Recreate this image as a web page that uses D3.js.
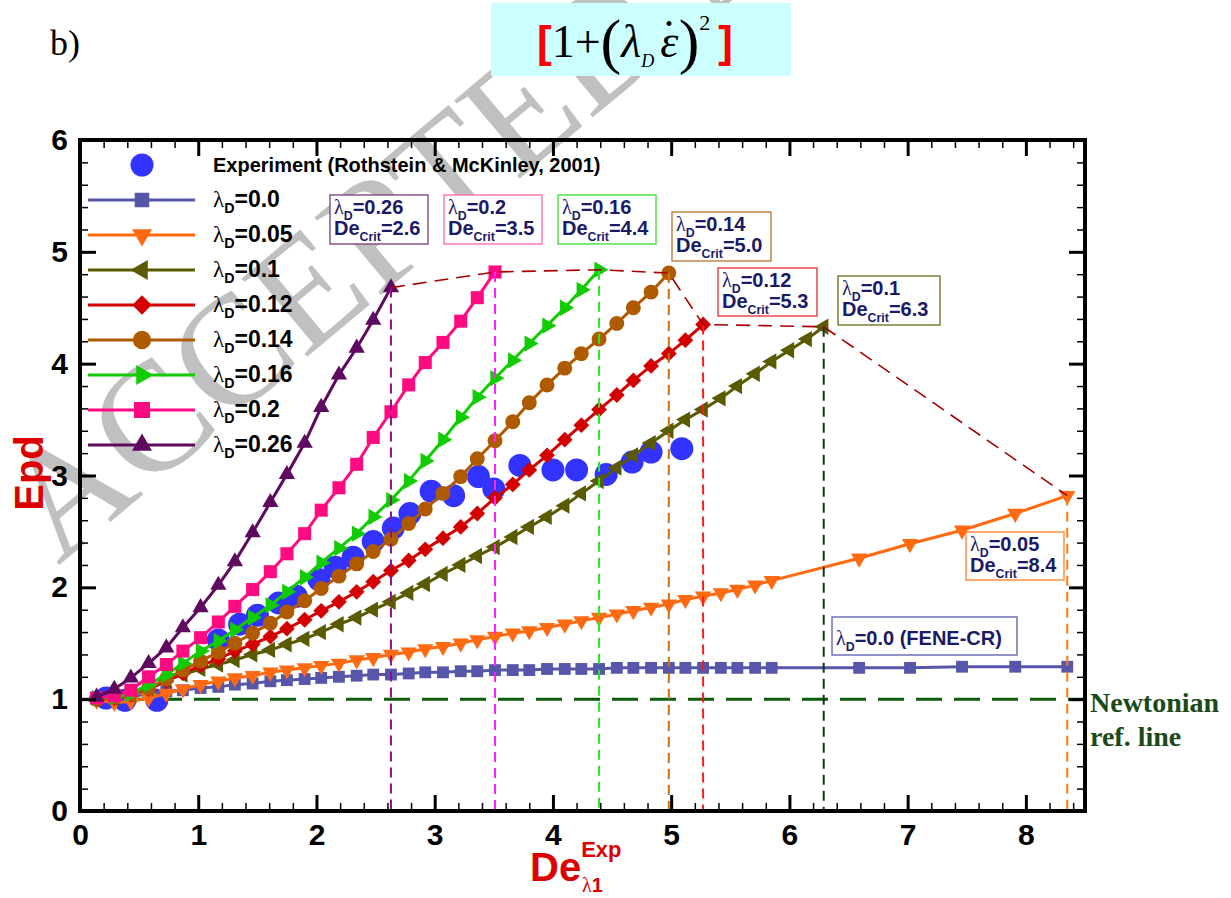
<!DOCTYPE html>
<html><head><meta charset="utf-8">
<script src="https://cdn.jsdelivr.net/npm/d3@7"></script>
<style>body{margin:0;background:#fff;} svg{display:block;}</style>
</head><body>
<svg id="chart" width="1231" height="898"></svg>
<script>
// ---------------- DATA ----------------
const gridX = [0.14,0.29,0.43,0.58,0.73,0.87,1.02,1.17,1.31,1.46,1.61,1.75,1.90,2.04,2.19,2.34,2.48,2.63,2.78,2.92,3.07,3.22,3.36,3.51,3.66,3.80,3.95,4.10,4.24,4.39,4.54,4.68,4.83,4.98,5.12,5.27,5.42,5.56,5.71,5.85,6.00,6.15,6.29];
const tailX = [6.59,7.02,7.46,7.91,8.35];

const epd_00  = [1.00,1.01,1.02,1.05,1.07,1.08,1.10,1.11,1.13,1.14,1.16,1.17,1.18,1.19,1.20,1.21,1.22,1.22,1.23,1.24,1.24,1.25,1.25,1.26,1.26,1.26,1.27,1.27,1.27,1.27,1.28,1.28,1.28,1.28,1.28,1.28,1.28,1.28,1.28,1.28, 1.28,1.28,1.29,1.29,1.29];
const epd_005 = [0.99,0.97,0.98,1.01,1.05,1.09,1.13,1.16,1.19,1.21,1.24,1.26,1.28,1.30,1.32,1.35,1.37,1.40,1.42,1.45,1.47,1.50,1.53,1.56,1.59,1.61,1.64,1.67,1.70,1.73,1.76,1.79,1.82,1.85,1.89,1.92,1.95,1.98,2.02,2.06, 2.26,2.39,2.51,2.66,2.82];
const epd_01  = [1.00,1.01,1.04,1.10,1.17,1.22,1.27,1.31,1.35,1.40,1.44,1.49,1.54,1.60,1.67,1.73,1.80,1.87,1.95,2.03,2.12,2.20,2.28,2.36,2.45,2.54,2.63,2.73,2.84,2.95,3.07,3.18,3.29,3.40,3.50,3.59,3.69,3.80,3.91,4.02,4.12,4.22,4.33];
const epd_012 = [1.00,1.01,1.04,1.09,1.16,1.23,1.30,1.36,1.43,1.49,1.56,1.63,1.71,1.79,1.87,1.96,2.05,2.15,2.24,2.34,2.44,2.54,2.66,2.80,2.92,3.05,3.18,3.32,3.45,3.59,3.72,3.85,3.98,4.09,4.21,4.35];
const epd_014 = [1.00,1.02,1.05,1.10,1.18,1.26,1.34,1.42,1.50,1.59,1.68,1.78,1.88,1.99,2.10,2.21,2.32,2.43,2.57,2.70,2.84,2.99,3.15,3.31,3.48,3.65,3.81,3.96,4.09,4.22,4.36,4.50,4.64,4.81];
const epd_016 = [1.01,1.02,1.05,1.13,1.22,1.32,1.43,1.52,1.62,1.73,1.84,1.96,2.09,2.22,2.35,2.48,2.63,2.78,2.95,3.13,3.32,3.52,3.70,3.87,4.03,4.18,4.34,4.50,4.66,4.84];
const epd_02  = [1.01,1.03,1.08,1.20,1.31,1.43,1.55,1.69,1.83,1.98,2.14,2.30,2.48,2.69,2.89,3.10,3.34,3.57,3.81,4.01,4.19,4.38,4.59,4.82];
const epd_026 = [1.02,1.09,1.19,1.32,1.46,1.64,1.82,2.02,2.23,2.49,2.76,3.01,3.29,3.61,3.90,4.14,4.39,4.68];

const expX = [0.22,0.38,0.65,1.17,1.35,1.50,1.68,1.83,2.02,2.16,2.31,2.48,2.65,2.79,2.97,3.16,3.37,3.50,3.72,4.00,4.20,4.45,4.67,4.83,5.09];
const expY = [1.01,0.99,0.99,1.53,1.67,1.75,1.86,1.92,2.07,2.18,2.27,2.41,2.53,2.66,2.86,2.82,2.99,2.88,3.09,3.05,3.05,3.01,3.12,3.21,3.24];

const lambdaLabels = ["0.0","0.05","0.1","0.12","0.14","0.16","0.2","0.26"];
const critLambda = ["0.26","0.2","0.16","0.14","0.12","0.1","0.05"];
const critDe     = ["2.6","3.5","4.4","5.0","5.3","6.3","8.4"];
const xTicks = [0,1,2,3,4,5,6,7,8];
const yTicks = [0,1,2,3,4,5,6];
const newtonianY = 1;

// ---------------- STYLE / LAYOUT ----------------
const P = {left:80, right:1085, top:140, bottom:811};
const x = d3.scaleLinear().domain([0,8.5]).range([P.left,P.right]);
const y = d3.scaleLinear().domain([0,6]).range([P.bottom,P.top]);
const SANS = "'Liberation Sans', Arial, Helvetica, sans-serif";
const SERIF = "'Liberation Serif', 'Times New Roman', serif";
const NAVY = "#1a1a66";

const lowX = gridX.slice(0,40).concat(tailX);
const seriesYs = [epd_00, epd_005, epd_01, epd_012, epd_014, epd_016, epd_02, epd_026];
const seriesData = seriesYs.map((ys,i)=>({
  lab: lambdaLabels[i],
  xs: (i<2 ? lowX : gridX).slice(0, ys.length),
  ys: ys
}));
const seriesStyle = [
  {color:"#5656aa", sym:d3.symbolSquare,   size:140, rot:0},
  {color:"#ff6a10", sym:d3.symbolTriangle, size:115, rot:180},
  {color:"#5a5a00", sym:d3.symbolTriangle, size:115, rot:-90},
  {color:"#d40000", sym:d3.symbolSquare,   size:125, rot:45},
  {color:"#b05a00", sym:d3.symbolCircle,   size:175, rot:0},
  {color:"#11cc00", sym:d3.symbolTriangle, size:115, rot:90},
  {color:"#ff0a80", sym:d3.symbolSquare,   size:170, rot:0},
  {color:"#5e0a5e", sym:d3.symbolTriangle, size:115, rot:0}
];
const critSeries = [7,6,5,4,3,2,1];
const critVColor = ["#8a128a","#ff22ff","#22ee22","#d07010","#ff1a1a","#0e3a0e","#ff7a10"];
const critBoxColor = ["#7a3a7a","#ff66b0","#33dd33","#b8732e","#e03030","#6b6b1a","#ff7f27"];
const critBox = [[330,195,428,244],[444,195,542,244],[558,195,656,244],[672,212,771,261],[718,268,817,316],[838,276,940,325],[966,532,1064,580]];

const svg = d3.select('#chart');

// ---------------- WATERMARK ----------------
svg.append('text')
  .attr('transform','translate(58,566) rotate(-40)')
  .attr('font-family',SERIF).attr('font-size',156)
  .attr('fill','#c0c0c0')
  .text('ACCEPTED MANUSCRIPT');

// ---------------- TITLE ----------------
svg.append('text').attr('x',50).attr('y',55).attr('font-family',SERIF).attr('font-size',36).text('b)');
svg.append('rect').attr('x',491).attr('y',3).attr('width',300).attr('height',73).attr('fill','#ccffff');
const ft = svg.append('text').attr('x',537).attr('y',57).attr('font-family',SERIF).attr('font-size',46);
ft.append('tspan').attr('fill','#ff0000').attr('font-weight','bold').attr('font-family',SANS).attr('font-size',44).text('[');
ft.append('tspan').text('1+');
ft.append('tspan').attr('font-size',62).attr('dy',5).text('(');
ft.append('tspan').attr('font-style','italic').attr('dy',-5).text('λ');
ft.append('tspan').attr('font-style','italic').attr('font-size',18).attr('dy',10).text('D');
ft.append('tspan').attr('font-style','italic').attr('dx',6).attr('dy',-10).text('ε');
ft.append('tspan').attr('dx',-17).attr('dy',-5).text('\u02D9');
ft.append('tspan').attr('font-size',62).attr('dx',2).attr('dy',10).text(')');
ft.append('tspan').attr('font-size',22).attr('dy',-32).text('2');
ft.append('tspan').attr('fill','#ff0000').attr('font-weight','bold').attr('font-family',SANS).attr('font-size',44).attr('dx',8).attr('dy',27).text(']');

// ---------------- NEWTONIAN LINE ----------------
svg.append('line').attr('x1',x(0)).attr('x2',x(8.5)).attr('y1',y(newtonianY)).attr('y2',y(newtonianY))
  .attr('stroke','#0c5a0c').attr('stroke-width',3).attr('stroke-dasharray','26,12');

// ---------------- EXPERIMENT ----------------
svg.append('g').selectAll('circle').data(expX.map((v,i)=>[v,expY[i]])).join('circle')
  .attr('cx',d=>x(d[0])).attr('cy',d=>y(d[1])).attr('r',11.5).attr('fill','#3333ff');

// ---------------- SERIES ----------------
const line = d3.line().x(d=>x(d[0])).y(d=>y(d[1]));
seriesData.forEach((s,i)=>{
  const st = seriesStyle[i];
  const pts = s.xs.map((v,k)=>[v,s.ys[k]]);
  const g = svg.append('g');
  g.append('path').attr('d',line(pts)).attr('fill','none').attr('stroke',st.color).attr('stroke-width',3);
  g.selectAll('path.m').data(pts).join('path').attr('class','m')
    .attr('d',d3.symbol(st.sym,st.size)())
    .attr('transform',d=>`translate(${x(d[0])},${y(d[1])}) rotate(${st.rot})`)
    .attr('fill',st.color);
});

// ---------------- CRITICAL LINES ----------------
const critPts = critSeries.map(i=>{const s=seriesData[i]; return [s.xs[s.xs.length-1], s.ys[s.ys.length-1]];});
critPts.forEach((p,j)=>{
  svg.append('line').attr('x1',x(p[0])).attr('x2',x(p[0])).attr('y1',y(p[1])).attr('y2',y(0))
    .attr('stroke',critVColor[j]).attr('stroke-width',2).attr('stroke-dasharray','10,6');
});
svg.append('path').attr('d',line(critPts)).attr('fill','none').attr('stroke','#a80000')
  .attr('stroke-width',1.6).attr('stroke-dasharray','14,8');

function lamText(sel, val, fs){
  sel.append('tspan').attr('font-family',SERIF).attr('font-weight','normal').text('λ');
  sel.append('tspan').attr('font-size',fs*0.62).attr('dy',fs*0.28).text('D');
  sel.append('tspan').attr('dy',-fs*0.28).text('='+val);
}
function deText(sel, val, fs){
  sel.append('tspan').text('De');
  sel.append('tspan').attr('font-size',fs*0.62).attr('dy',fs*0.3).text('Crit');
  sel.append('tspan').attr('dy',-fs*0.3).text('='+val);
}
critBox.forEach((b,j)=>{
  const g = svg.append('g');
  g.append('rect').attr('x',b[0]).attr('y',b[1]).attr('width',b[2]-b[0]).attr('height',b[3]-b[1])
    .attr('fill','#fff').attr('stroke',critBoxColor[j]).attr('stroke-width',1.3);
  const t1 = g.append('text').attr('x',b[0]+4).attr('y',b[1]+19).attr('font-family',SANS).attr('font-weight','bold').attr('font-size',20).attr('fill',NAVY);
  lamText(t1, critLambda[j], 20);
  const t2 = g.append('text').attr('x',b[0]+4).attr('y',b[1]+40).attr('font-family',SANS).attr('font-weight','bold').attr('font-size',20).attr('fill',NAVY);
  deText(t2, critDe[j], 20);
});
{
  const g = svg.append('g');
  g.append('rect').attr('x',832).attr('y',617).attr('width',185).attr('height',38)
    .attr('fill','#fff').attr('stroke','#5a5ab0').attr('stroke-width',1.3);
  const t = g.append('text').attr('x',836).attr('y',645).attr('font-family',SANS).attr('font-weight','bold').attr('font-size',20).attr('fill',NAVY);
  lamText(t, lambdaLabels[0]+' (FENE-CR)', 20);
}

svg.append('text').attr('x',1090).attr('y',712).attr('font-family',SERIF).attr('font-weight','bold').attr('font-size',28).attr('fill','#1a4a1a').text('Newtonian');
svg.append('text').attr('x',1090).attr('y',746).attr('font-family',SERIF).attr('font-weight','bold').attr('font-size',28).attr('fill','#1a4a1a').text('ref. line');

// ---------------- LEGEND ----------------
const lg = svg.append('g');
const legY0 = 165, legDy = 35;
lg.append('circle').attr('cx',142).attr('cy',legY0).attr('r',11.5).attr('fill','#3333ff');
lg.append('text').attr('x',213).attr('y',legY0+7).attr('font-family',SANS).attr('font-weight','bold').attr('font-size',20)
  .text('Experiment (Rothstein & McKinley, 2001)');
seriesStyle.forEach((st,i)=>{
  const yy = legY0 + legDy*(i+1);
  lg.append('line').attr('x1',88).attr('x2',195).attr('y1',yy).attr('y2',yy).attr('stroke',st.color).attr('stroke-width',3);
  lg.append('path').attr('d',d3.symbol(st.sym,st.size*1.5)()).attr('transform',`translate(142,${yy}) rotate(${st.rot})`).attr('fill',st.color);
  const t = lg.append('text').attr('x',213).attr('y',yy+7).attr('font-family',SANS).attr('font-weight','bold').attr('font-size',23);
  lamText(t, seriesData[i].lab, 23);
});

// ---------------- AXES ----------------
const minorX = d3.range(0,8.5001,0.2).filter(v=>Math.abs(v-Math.round(v))>1e-6);
const minorY = d3.range(0,6.0001,0.2).filter(v=>Math.abs(v-Math.round(v))>1e-6);
function styleAxis(g, w){ g.select('.domain').remove(); g.selectAll('.tick line').attr('stroke','#000').attr('stroke-width',w); }
svg.append('g').attr('transform',`translate(0,${P.bottom})`).call(d3.axisBottom(x).tickValues(minorX).tickSize(-8).tickFormat('')).call(g=>styleAxis(g,1.5));
svg.append('g').attr('transform',`translate(0,${P.top})`).call(d3.axisTop(x).tickValues(minorX).tickSize(-8).tickFormat('')).call(g=>styleAxis(g,1.5));
svg.append('g').attr('transform',`translate(${P.left},0)`).call(d3.axisLeft(y).tickValues(minorY).tickSize(-8).tickFormat('')).call(g=>styleAxis(g,1.5));
svg.append('g').attr('transform',`translate(${P.right},0)`).call(d3.axisRight(y).tickValues(minorY).tickSize(-8).tickFormat('')).call(g=>styleAxis(g,1.5));

const xb = svg.append('g').attr('transform',`translate(0,${P.bottom})`).call(d3.axisBottom(x).tickValues(xTicks).tickSize(-16).tickPadding(13).tickFormat(d3.format('d')));
styleAxis(xb,3);
xb.selectAll('text').attr('font-family',SANS).attr('font-weight','bold').attr('font-size',30).attr('fill','#000');
svg.append('g').attr('transform',`translate(0,${P.top})`).call(d3.axisTop(x).tickValues(xTicks).tickSize(-16).tickFormat('')).call(g=>styleAxis(g,3));
const yl = svg.append('g').attr('transform',`translate(${P.left},0)`).call(d3.axisLeft(y).tickValues(yTicks).tickSize(-16).tickPadding(12).tickFormat(d3.format('d')));
styleAxis(yl,3);
yl.selectAll('text').attr('font-family',SANS).attr('font-weight','bold').attr('font-size',30).attr('fill','#000');
svg.append('g').attr('transform',`translate(${P.right},0)`).call(d3.axisRight(y).tickValues(yTicks).tickSize(-16).tickFormat('')).call(g=>styleAxis(g,3));

svg.append('rect').attr('x',P.left).attr('y',P.top).attr('width',P.right-P.left).attr('height',P.bottom-P.top)
  .attr('fill','none').attr('stroke','#000').attr('stroke-width',4);

// axis titles
svg.append('text').attr('transform','translate(43,473) rotate(-90)').attr('text-anchor','middle')
  .attr('font-family',SANS).attr('font-weight','bold').attr('font-size',40).attr('fill','#dd0000').text('Epd');
const xt = svg.append('text').attr('x',530).attr('y',881).attr('font-family',SANS).attr('font-weight','bold').attr('font-size',40).attr('fill','#dd0000');
xt.append('tspan').text('De');
xt.append('tspan').attr('font-size',22).attr('dy',-24).text('Exp');
svg.append('text').attr('x',582).attr('y',892).attr('font-family',SANS).attr('font-weight','bold').attr('font-size',20).attr('fill','#dd0000')
  .call(t=>{t.append('tspan').attr('font-family',SERIF).attr('font-weight','normal').text('λ'); t.append('tspan').text('1');});
</script>
</body></html>
